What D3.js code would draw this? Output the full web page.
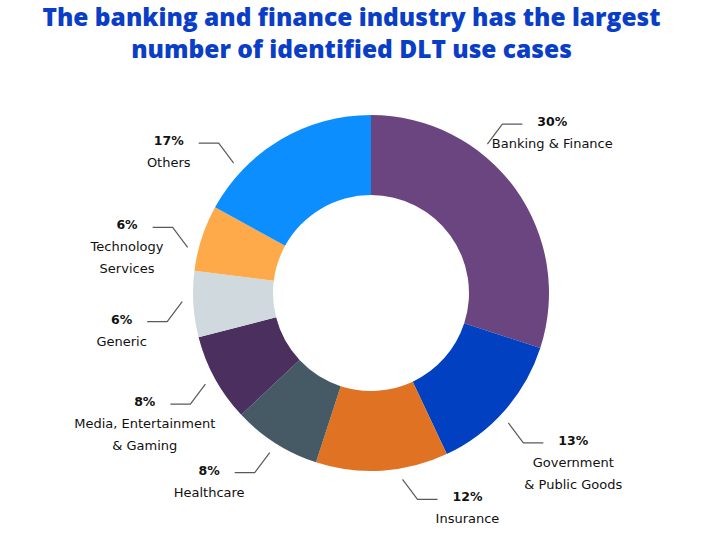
<!DOCTYPE html>
<html>
<head>
<meta charset="utf-8">
<script src="https://cdn.jsdelivr.net/npm/d3@7"></script>
<style>
  body { margin: 0; background: #fff; }
  .title { font-family: 'Open Sans', sans-serif; font-weight: 800; fill: #0b3ec6; }
  .pct { font-family: 'DejaVu Sans', sans-serif; font-weight: 700; fill: #111; font-size: 12.5px; }
  .name { font-family: 'DejaVu Sans', sans-serif; font-weight: 400; fill: #111; font-size: 13px; }
</style>
</head>
<body>
<div class="chart"></div>
<script>
// chart data
const categories = ['Banking & Finance', 'Government\n& Public Goods', 'Insurance', 'Healthcare',
  'Media, Entertainment\n& Gaming', 'Generic', 'Technology\nServices', 'Others'];
const shares = [30, 13, 12, 8, 8, 6, 6, 17];
const colors = ['#6b4580', '#0040c1', '#e07223', '#465a65', '#4b2f5f', '#d0d9de', '#ffaa4a', '#0d8eff'];
const titleLines = ['The banking and finance industry has the largest', 'number of identified DLT use cases'];

// small manual shift (degrees) of where each leader line leaves the ring
const leaderShift = [-16, 2, -6, 0, 0, 1, -4, -16];

var width = 701;
var height = 552;
var cx = 371;
var cy = 293;
var outerR = 178;
var innerR = 98;

var svg = d3.select('.chart').append('svg')
  .attr('width', width)
  .attr('height', height);

// title
svg.selectAll('.title')
  .data(titleLines)
  .enter()
  .append('text')
  .attr('class', 'title')
  .attr('x', width / 2 + 1)
  .attr('y', function(d, i) { return 26 + i * 32; })
  .attr('text-anchor', 'middle')
  .style('font-size', '24.5px')
  .text(function(d) { return d; });

var pie = d3.pie()
  .sort(null)
  .value(function(d) { return d; });

var arc = d3.arc()
  .innerRadius(innerR)
  .outerRadius(outerR);

var arcs = pie(shares);

var g = svg.append('g')
  .attr('transform', 'translate(' + cx + ',' + cy + ')');

g.selectAll('path')
  .data(arcs)
  .enter()
  .append('path')
  .attr('d', arc)
  .attr('fill', function(d, i) { return colors[i]; });

// labels with leader lines
arcs.forEach(function(d, i) {
  var a = (d.startAngle + d.endAngle) / 2 + leaderShift[i] * Math.PI / 180;
  var r0 = 189;
  var x0 = r0 * Math.sin(a);
  var y0 = -r0 * Math.cos(a);
  var dir = x0 >= 0 ? 1 : -1;
  var vdir = y0 >= 0 ? 1 : -1;
  var x1 = x0 + dir * 15;
  var y1 = y0 + vdir * 20;
  var x2 = x1 + dir * 20;

  g.append('path')
    .attr('d', 'M' + x0 + ',' + y0 + 'L' + x1 + ',' + y1 + 'L' + x2 + ',' + y1)
    .attr('fill', 'none')
    .attr('stroke', '#5a5a5a')
    .attr('stroke-width', 1.2);

  var pct = g.append('text')
    .attr('class', 'pct')
    .attr('y', y1 + 2)
    .attr('text-anchor', 'middle')
    .text(shares[i] + '%');
  var w = pct.node().getComputedTextLength();
  var tx = x2 + dir * (15 + w / 2);
  pct.attr('x', tx);

  categories[i].split('\n').forEach(function(line, j) {
    g.append('text')
      .attr('class', 'name')
      .attr('x', tx)
      .attr('y', y1 + 24 + j * 22)
      .attr('text-anchor', 'middle')
      .text(line);
  });
});
</script>
</body>
</html>
